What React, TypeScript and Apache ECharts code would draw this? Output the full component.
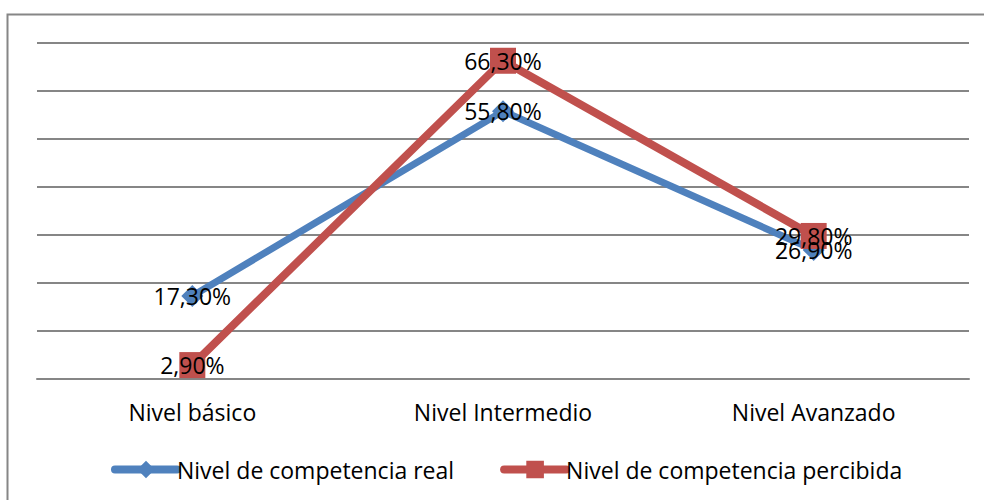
import React, { useEffect, useRef } from "react";
import * as echarts from "echarts";

const categories = ["Nivel básico", "Nivel Intermedio", "Nivel Avanzado"];
const realValues = [17.3, 55.8, 26.9];
const percibidaValues = [2.9, 66.3, 29.8];
const seriesNames = ["Nivel de competencia real", "Nivel de competencia percibida"];

const FONT = "'Open Sans', sans-serif";
const fmt = (v: number) => v.toFixed(2).replace(".", ",") + "%";

export default function App() {
  const ref = useRef<HTMLDivElement>(null);
  useEffect(() => {
    if (!ref.current) return;
    const chart = echarts.init(ref.current, null, { renderer: "svg" });
    const label = {
      show: true,
      position: "inside",
      color: "#000",
      fontFamily: FONT,
      fontSize: 23,
      formatter: (p: any) => fmt(p.value),
    };
    chart.setOption({
      animation: false,
      backgroundColor: "#fff",
      textStyle: { fontFamily: FONT },
      graphic: [
        {
          type: "rect",
          shape: { x: 7.5, y: 14.5, width: 1000, height: 500 },
          style: { fill: "none", stroke: "#868686", lineWidth: 2 },
          silent: true,
        },
      ],
      grid: { left: 37, right: 15, top: 43, bottom: 121 },
      xAxis: {
        type: "category",
        data: categories,
        boundaryGap: true,
        axisLine: { show: true, lineStyle: { color: "#868686", width: 2 } },
        axisTick: { show: false },
        axisLabel: { color: "#000", fontFamily: FONT, fontSize: 23, margin: 21 },
      },
      yAxis: {
        type: "value",
        min: 0,
        max: 70,
        interval: 10,
        axisLabel: { show: false },
        axisLine: { show: false },
        axisTick: { show: false },
        splitLine: { show: true, lineStyle: { color: "#868686", width: 2 } },
      },
      legend: {
        left: 106,
        top: 453,
        itemWidth: 62,
        itemHeight: 22,
        itemGap: 46,
        textStyle: { color: "#000", fontFamily: FONT, fontSize: 23, padding: [0, 0, 0, -5] },
        data: [
          { name: seriesNames[0], lineStyle: { width: 8, cap: "round" } },
          { name: seriesNames[1], lineStyle: { width: 8, cap: "round" } },
        ],
      },
      series: [
        {
          name: seriesNames[0],
          type: "line",
          data: realValues,
          symbol: "diamond",
          symbolSize: 22,
          lineStyle: { color: "#4F81BD", width: 7 },
          itemStyle: { color: "#4F81BD" },
          label,
        },
        {
          name: seriesNames[1],
          type: "line",
          data: percibidaValues,
          symbol: "rect",
          symbolSize: 26,
          lineStyle: { color: "#C0504D", width: 8 },
          itemStyle: { color: "#C0504D" },
          label,
        },
      ],
    });
    return () => chart.dispose();
  }, []);
  return (
    <div
      ref={ref}
      style={{ position: "fixed", left: 0, top: 0, width: 984, height: 500 }}
    />
  );
}
